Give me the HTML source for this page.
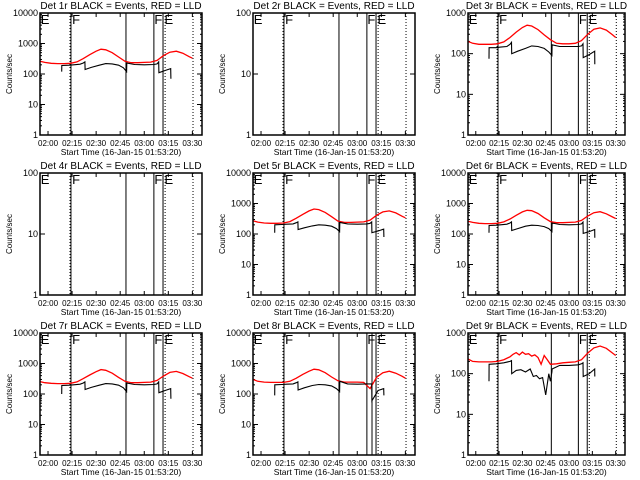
<!DOCTYPE html>
<html><head><meta charset="utf-8"><style>
html,body{margin:0;padding:0;background:#fff}
svg{display:block;font-family:"Liberation Sans",sans-serif}
</style></head><body>
<svg id="c" width="640" height="480" viewBox="0 0 640 480" xmlns="http://www.w3.org/2000/svg"></svg>
<script>
// ---- data ----
const detectorNames = ["1r","2r","3r","4r","5r","6r","7r","8r","9r"];
const yDecades = [4,2,3,2,4,4,4,4,3];
const xTickLabels = ["02:00","02:15","02:30","02:45","03:00","03:15","03:30"];
const xTickMinutes = [120,135,150,165,180,195,210];
const yTickLabels = ["1","10","100","1000","10000"];
const redTimes = [115,118,122,126,130,134,138,142,146,150,153,156,160,164,168,172,176,180,184,188,192,196,200,204,208,210];
const red1 = [260,240,225,220,220,225,250,320,430,560,650,620,500,360,260,235,235,240,245,280,400,520,560,480,370,330];
const red3 = [200,180,170,170,170,175,195,250,340,440,500,480,390,290,220,180,175,175,180,210,300,400,430,380,290,250];
const red5 = [270,245,230,225,225,230,255,330,440,570,660,630,510,370,265,240,240,245,250,285,410,530,570,490,380,340];
const red6 = [260,240,225,220,220,225,250,310,410,530,600,580,470,340,255,235,235,240,245,280,390,500,540,460,360,320];
const red7 = [255,235,225,220,220,225,250,320,420,540,630,600,480,350,260,235,235,240,245,280,390,510,550,470,370,330];
const red8 = [300,260,245,240,240,240,260,330,440,560,650,620,500,360,270,245,245,245,240,150,350,500,560,480,380,330];
const redTimes9 = [115,118,122,126,130,134,138,142,144,146,148,150,152,154,156,158,160,162,164,166,168,172,176,180,184,188,192,196,200,204,208,210];
const red9 = [230,200,195,195,195,200,220,260,300,330,290,340,300,310,270,290,250,170,280,220,170,175,185,190,195,220,320,430,480,420,320,280];
const blackTimes = [128.5,128.6,133,136,140,142,143,143.1,147,152,156,160,164,167,169,169.1,174,180,186,188,189,189.1,193,196.5,196.6];
const black1 = [120,190,195,200,210,230,250,140,165,195,220,215,195,160,120,230,205,200,205,215,250,110,130,150,70];
const black3 = [75,140,140,145,150,170,190,100,115,135,155,150,135,110,90,165,150,150,150,155,175,80,95,115,55];
const black5 = [110,200,205,210,215,235,250,140,160,185,200,195,180,150,120,240,215,210,215,225,250,110,125,145,80];
const black6 = [110,190,195,200,210,230,250,130,150,180,195,190,175,150,120,230,205,200,205,215,245,105,120,140,75];
const black7 = [100,190,195,200,210,230,250,140,165,195,220,215,195,160,120,230,205,200,205,215,250,110,130,150,70];
const black8 = [90,200,205,210,215,235,250,135,160,190,205,200,185,150,120,260,215,210,215,215,215,60,130,150,90];
const blackTimes9 = [128.5,128.6,133,138,142,143,143.1,146,149,152,155,157,159,161,163,165,167,168,169,169.1,174,180,186,188,189,189.1,193,196.5,196.6];
const black9 = [65,170,175,185,200,210,100,120,125,110,130,85,90,75,80,30,100,65,110,130,160,160,165,175,185,85,100,130,85];
const eventSolid = [134.3,168.6,186,191.7];
const eventDotted = [133.7,193,210.4];
const eventLetters = ["E","F","F","E"];
const eventLetterTimes = [115.5,135,186.3,192.6];

const redSeries = [[redTimes,red1],null,[redTimes,red3],null,[redTimes,red5],[redTimes,red6],[redTimes,red7],[redTimes,red8],[redTimes9,red9]];
const blackSeries = [[blackTimes,black1],null,[blackTimes,black3],null,[blackTimes,black5],[blackTimes,black6],[blackTimes,black7],[blackTimes,black8],[blackTimes9,black9]];

// ---- layout ----
const NS = "http://www.w3.org/2000/svg";
const svg = document.getElementById("c");
const colX = [40,253,468], colW = [162,162,157];
const rowY = [13,173,333], plotH = 122;
const T0 = 115, T1 = 216;
function mk(tag, attrs, parent){const e=document.createElementNS(NS,tag);for(const k in attrs)e.setAttribute(k,attrs[k]);(parent||svg).appendChild(e);return e;}

for(let p=0;p<9;p++){
  const col=p%3,row=Math.floor(p/3);
  const px=colX[col],py=rowY[row],w=colW[col],h=plotH,dec=yDecades[p];
  const xs=t=>px+(t-T0)/(T1-T0)*w;
  const ys=v=>py+h-(Math.log10(v)/dec)*h;
  const g=mk("g",{});
  
  
  const title=mk("text",{x:px+w/2,y:py-4,"font-size":"10","text-anchor":"middle",fill:"#000"},g);
  title.textContent="Det "+detectorNames[p]+" BLACK = Events, RED = LLD";
  
  
  const yt=mk("text",{x:0,y:0,"font-size":"8","text-anchor":"middle",transform:"translate("+(px-28)+","+(py+h/2)+") rotate(-90)"},g);
  yt.textContent="Counts/sec";
  
  
  const xt=mk("text",{x:px+w/2,y:py+h+20,"font-size":"8.5","text-anchor":"middle"},g);
  xt.textContent="Start Time (16-Jan-15 01:53:20)";
  
  
  for(let d=0;d<=dec;d++){
    const y=ys(Math.pow(10,d));
    mk("line",{x1:px,x2:px+5,y1:y,y2:y,stroke:"#000"},g);
    mk("line",{x1:px+w-5,x2:px+w,y1:y,y2:y,stroke:"#000"},g);
    const lb=mk("text",{x:px-2,y:y+3,"font-size":"9","text-anchor":"end"},g);
    lb.textContent=yTickLabels[d];
    
    
    if(d<dec&&dec>2)for(let m=2;m<10;m++){
      const ym=ys(m*Math.pow(10,d));
      mk("line",{x1:px,x2:px+2,y1:ym,y2:ym,stroke:"#000"},g);
      mk("line",{x1:px+w-2,x2:px+w,y1:ym,y2:ym,stroke:"#000"},g);
    }
  }
  for(let i=0;i<xTickMinutes.length;i++){
    const x=xs(xTickMinutes[i]);
    mk("line",{x1:x,x2:x,y1:py+h,y2:py+h-4,stroke:"#000"},g);
    mk("line",{x1:x,x2:x,y1:py,y2:py+4,stroke:"#000"},g);
    const lb=mk("text",{x:x,y:py+h+11,"font-size":"8","text-anchor":"middle"},g);
    lb.textContent=xTickLabels[i];
    
    
  }
  eventSolid.forEach(t=>mk("line",{x1:xs(t),x2:xs(t),y1:py,y2:py+h,stroke:"#000","stroke-width":"1"},g));
  eventDotted.forEach(t=>mk("line",{x1:xs(t),x2:xs(t),y1:py,y2:py+h,stroke:"#000","stroke-dasharray":"1,2"},g));
  if(p===7) mk("line",{x1:xs(189.2),x2:xs(189.2),y1:py,y2:py+h,stroke:"#000","stroke-width":"1"},g);
  eventLetters.forEach((L,i)=>{
    const t=mk("text",{x:xs(eventLetterTimes[i]),y:py+11,"font-size":"13"},g);
    t.textContent=L;
    
    
  });
  function line(s,color,name,sw){
    if(!s)return;
    const d=s[0].map((t,i)=>(i?"L":"M")+xs(t).toFixed(1)+","+ys(s[1][i]).toFixed(1)).join("");
    const el=mk("path",{d:d,fill:"none",stroke:color,"stroke-width":sw},g);
    
    
  }
  line(redSeries[p],"#f00","lld-rate-line","1.3");
  line(blackSeries[p],"#000","event-rate-line","1.1");
  const fr=mk("rect",{x:px,y:py,width:w,height:h,fill:"none",stroke:"#000","stroke-width":"1.5"},g);
  
  
}
</script>
</body></html>
